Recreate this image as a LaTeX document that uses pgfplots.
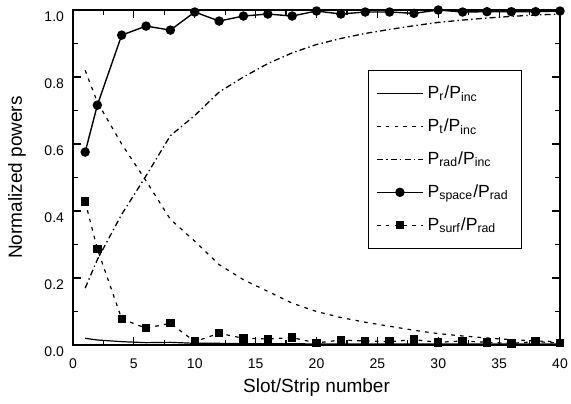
\documentclass[border=0pt]{standalone}
\usepackage{fontspec}
\setmainfont{Liberation Sans}
\usepackage{pgfplots}
\pgfplotsset{compat=1.18}

\pgfplotstableread{
x    pr     pt     prad
1    0.020  0.820  0.170
2    0.015  0.725  0.255
4    0.010  0.600  0.390
6    0.007  0.490  0.505
8    0.008  0.375  0.625
10   0.005  0.310  0.685
12   0.005  0.240  0.755
14   0.004  0.195  0.800
16   0.004  0.160  0.840
18   0.004  0.125  0.872
20   0.003  0.100  0.897
22   0.003  0.082  0.915
24   0.003  0.068  0.930
26   0.003  0.056  0.942
28   0.003  0.044  0.953
30   0.003  0.034  0.963
32   0.003  0.027  0.970
34   0.003  0.021  0.976
36   0.003  0.016  0.981
38   0.003  0.012  0.985
40   0.003  0.010  0.988
}\incdata

\pgfplotstableread{
x    space  surf
1    0.576  0.428
2    0.716  0.287
4    0.925  0.078
6    0.952  0.050
8    0.940  0.065
10   0.994  0.010
12   0.967  0.035
14   0.982  0.020
16   0.988  0.018
18   0.982  0.022
20   0.997  0.006
22   0.988  0.015
24   0.994  0.012
26   0.994  0.010
28   0.990  0.016
30   1.000  0.008
32   0.994  0.012
34   0.995  0.008
36   0.995  0.005
38   0.995  0.010
40   0.997  0.006
}\raddata

\begin{document}
\begin{tikzpicture}
\begin{axis}[
  name=ax,
  scale only axis,
  width=243.5pt, height=167.5pt,
  xmin=0, xmax=40, ymin=0, ymax=1.0,
  xtick={0,5,...,40}, ytick={0,0.2,...,1.0},
  minor x tick num=1, minor y tick num=1,
  tick align=inside, major tick length=4pt, minor tick length=2.5pt,
  axis line style={line width=0.9pt},
  every tick/.style={black, line width=0.6pt},
  /pgf/number format/assume math mode=true,
  yticklabel style={/pgf/number format/fixed, /pgf/number format/fixed zerofill,
    /pgf/number format/precision=1, yshift=-3.5pt, xshift=-1pt},
  xticklabel style={yshift=-3.5pt},
  tick label style={font=\fontsize{7}{8}\selectfont},
  label style={font=\fontsize{9.5}{11}\selectfont},
  xlabel={Slot/Strip number},
  ylabel={Normalized powers},
  xlabel style={at={(axis description cs:0.5,-0.128)}, anchor=center},
  ylabel style={at={(axis description cs:-0.115,0.5)}, anchor=center},
  legend cell align=left,
  legend style={at={(axis description cs:0.605,0.821)}, anchor=north west,
    draw=black, line width=0.6pt, font=\fontsize{8.8}{9}\selectfont,
    row sep=4.6pt, inner xsep=4pt, inner ysep=5.5pt,
    text width=41pt},
  legend image code/.code={%
    \draw[mark repeat=2,mark phase=2,#1] plot coordinates {(0pt,0pt) (11.5pt,0pt) (23pt,0pt)};},
]
\addplot[black, line width=0.6pt] table[x=x,y=pr] {\incdata};
\addlegendentry{P\textsubscript{r}/P\textsubscript{inc}}
\addplot[black, line width=0.6pt, dash pattern=on 1.8pt off 2.6pt] table[x=x,y=pt] {\incdata};
\addlegendentry{P\textsubscript{t}/P\textsubscript{inc}}
\addplot[black, line width=0.65pt, dash pattern=on 3pt off 1.6pt on 0.7pt off 1.6pt] table[x=x,y=prad] {\incdata};
\addlegendentry{P\textsubscript{rad}/P\textsubscript{inc}}
\addplot[black, line width=0.7pt, mark=*, mark size=2pt] table[x=x,y=space] {\raddata};
\addlegendentry{P\textsubscript{space}/P\textsubscript{rad}}
\addplot[black, line width=0.6pt, dash pattern=on 1.8pt off 2.6pt, mark=square*, mark size=1.8pt,
  mark options={solid}] table[x=x,y=surf] {\raddata};
\addlegendentry{P\textsubscript{surf}/P\textsubscript{rad}}
\end{axis}
\pgfresetboundingbox
\path (ax.south west) ++(-36.5pt,-29pt) coordinate (bl);
\path (ax.north east) ++(5.5pt,5pt) coordinate (tr);
\useasboundingbox (bl) rectangle (tr);
\end{tikzpicture}
\end{document}
